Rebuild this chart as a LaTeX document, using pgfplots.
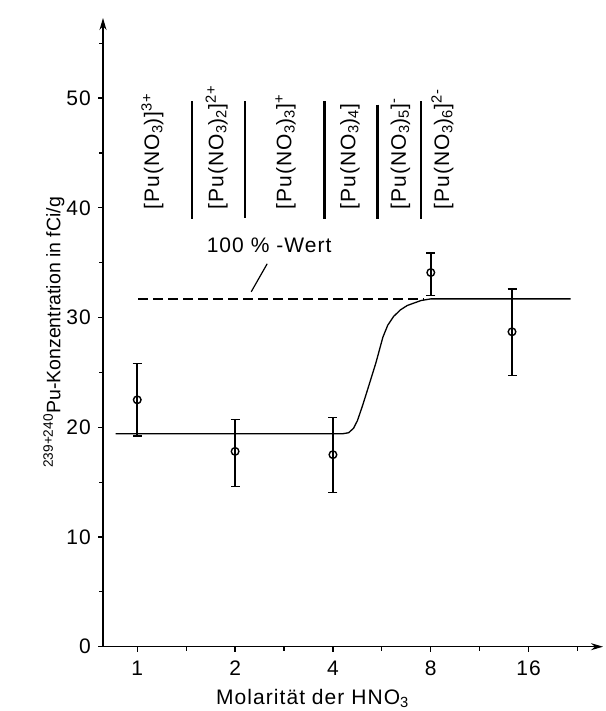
\documentclass[border=0pt]{standalone}
\usepackage{fontspec}
\setmainfont{Liberation Sans}[LetterSpace=5]
\newfontfamily\ylfont{Liberation Sans}
\usepackage{pgfplots}
\pgfplotsset{compat=1.18}
\usetikzlibrary{arrows.meta}
\begin{document}
\fontsize{21bp}{25bp}\selectfont
\begin{tikzpicture}
\path[use as bounding box] (0,0) rectangle (606bp,711bp);
% x is plotted as log2 of the HNO3 molarity (1 M -> 0, 2 M -> 1, ...)
\begin{axis}[
  at={(103bp,64.3bp)}, anchor=south west,
  width=500bp, height=628.7bp, scale only axis,
  xmin=-0.35, xmax=4.76,
  ymin=0, ymax=57.3,
  axis lines=left,
  axis line style={line width=1.3bp},
  x axis line style={-{Stealth[length=12bp,width=7bp]}},
  y axis line style={-{Stealth[length=12bp,width=7bp]}},
  xtick={0,1,2,3,4}, xticklabels={1,2,4,8,16},
  minor xtick={0.5,1.5,2.5,3.5,4.5},
  ytick={0,10,20,30,40,50},
  minor ytick={5,15,25,35,45,55},
  tick align=outside,
  major tick length=5bp, minor tick length=4bp,
  tick style={line width=1.2bp, black},
  /pgf/number format/assume math mode=true,
  xticklabel style={yshift=-2bp},
  yticklabel style={xshift=0bp},
  xlabel={Molarität der HNO\textsubscript{3}},
  xlabel style={at={(axis description cs:0.419,0)}, anchor=base, yshift=-57.6bp},
  ylabel={\fontsize{19.5bp}{23bp}\ylfont\textsuperscript{239+240}Pu-Konzentration in fCi/g},
  ylabel style={at={(axis description cs:-0.098,0.5)}, anchor=center, rotate=0},
  clip=false,
]
% fitted curve
\addplot[black, line width=1.3bp] coordinates {
  (-0.22,19.41) (2.10,19.41) (2.16,19.5) (2.21,19.9) (2.25,20.6)
  (2.30,21.9) (2.36,23.6) (2.44,25.9) (2.51,28.2) (2.56,29.3) (2.62,30.1)
  (2.69,30.7) (2.76,31.1) (2.90,31.55) (3.0,31.7) (4.43,31.7)
};
% 100 %-Wert dashed line
\addplot[black, line width=1.4bp, dash pattern=on 10bp off 5bp] coordinates {
  (0.01,31.7) (2.93,31.7)
};
% measured values with error bars
\addplot[black, line width=1.4bp, only marks, mark=o, mark size=3.8bp,
  mark options={fill=white, line width=1.4bp},
  error bars/.cd, y dir=both, y explicit,
  error bar style={line width=1.5bp},
  error mark options={rotate=90, mark size=4.5bp, line width=1.5bp}]
coordinates {
  (0,22.5) += (0,3.3) -= (0,3.3)
  (1,17.8) += (0,2.9) -= (0,3.2)
  (2,17.5) += (0,3.4) -= (0,3.45)
  (3,34.1) += (0,1.8) -= (0,2.1)
  (3.83,28.7) += (0,3.9) -= (0,4.0)
};
% leader line to label
\draw[line width=1.2bp] (axis cs:1.328,34.9) -- (axis cs:1.165,32.35);
\node[anchor=center, inner sep=0] at (axis cs:1.348,36.6) {100 \% -Wert};
% separators between species
\draw[line width=2.2bp] (axis cs:0.5626,49.7) -- (axis cs:0.5626,38.95);
\draw[line width=2.2bp] (axis cs:1.103,49.7) -- (axis cs:1.103,39.1);
\draw[line width=2.2bp] (axis cs:1.914,49.7) -- (axis cs:1.914,38.95);
\draw[line width=2.2bp] (axis cs:2.455,49.4) -- (axis cs:2.455,38.95);
\draw[line width=2.2bp] (axis cs:2.897,49.7) -- (axis cs:2.897,38.95);
% species labels
\node[rotate=90, anchor=west, inner sep=0] at (axis cs:0.156,39.87) {[Pu(NO\textsubscript{3})]\textsuperscript{3+}};
\node[rotate=90, anchor=west, inner sep=0] at (axis cs:0.811,39.87) {[Pu(NO\textsubscript{3})\textsubscript{2}]\textsuperscript{2+}};
\node[rotate=90, anchor=west, inner sep=0] at (axis cs:1.517,39.87) {[Pu(NO\textsubscript{3})\textsubscript{3}]\textsuperscript{+}};
\node[rotate=90, anchor=west, inner sep=0] at (axis cs:2.173,39.87) {[Pu(NO\textsubscript{3})\textsubscript{4}]};
\node[rotate=90, anchor=west, inner sep=0] at (axis cs:2.69,39.87) {[Pu(NO\textsubscript{3})\textsubscript{5}]\textsuperscript{-}};
\node[rotate=90, anchor=west, inner sep=0] at (axis cs:3.12,39.87) {[Pu(NO\textsubscript{3})\textsubscript{6}]\textsuperscript{2-}};
\end{axis}
\end{tikzpicture}
\end{document}
